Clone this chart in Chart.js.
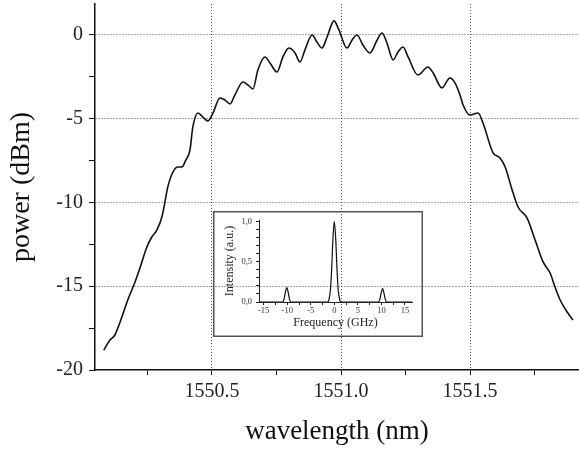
<!DOCTYPE html>
<html><head><meta charset="utf-8">
<script src="https://cdn.jsdelivr.net/npm/chart.js@4/dist/chart.umd.min.js"></script>
<style>
html,body{margin:0;padding:0;background:#fff;}
#wrap{position:relative;width:579px;height:449px;overflow:hidden;}
#main{position:absolute;left:0;top:0;}
#inset{position:absolute;left:213px;top:211px;}
</style></head><body>
<div id="wrap">
<canvas id="main" width="579" height="449"></canvas>
<canvas id="inset" width="210" height="126"></canvas>
</div>
<script>
// Main spectrum
const wavelength = [1550.081,1550.105,1550.124,1550.143,1550.174,1550.202,1550.221,1550.248,1550.267,1550.287,1550.306,1550.318,1550.329,1550.349,1550.368,1550.384,1550.399,1550.415,1550.426,1550.446,1550.465,1550.484,1550.504,1550.531,1550.550,1550.570,1550.589,1550.620,1550.640,1550.659,1550.678,1550.705,1550.725,1550.752,1550.775,1550.798,1550.822,1550.841,1550.860,1550.888,1550.907,1550.926,1550.946,1550.973,1550.992,1551.023,1551.043,1551.062,1551.085,1551.112,1551.140,1551.159,1551.178,1551.202,1551.221,1551.240,1551.260,1551.298,1551.337,1551.357,1551.391,1551.422,1551.442,1551.461,1551.473,1551.500,1551.531,1551.550,1551.589,1551.616,1551.636,1551.663,1551.686,1551.721,1551.752,1551.783,1551.810,1551.829,1551.849,1551.876,1551.899];
const power = [-18.81,-18.21,-17.91,-17.19,-15.82,-14.75,-13.91,-12.66,-12.06,-11.64,-10.87,-9.97,-9.07,-8.18,-7.88,-7.88,-7.46,-6.87,-5.49,-4.66,-4.90,-5.13,-4.66,-3.76,-3.88,-4.12,-3.58,-2.81,-2.99,-3.22,-2.09,-1.31,-1.67,-2.21,-1.31,-0.78,-1.07,-1.61,-0.90,0.00,-0.42,-0.78,-0.12,0.84,0.30,-0.78,-0.30,0.00,-0.60,-1.07,-0.30,0.12,-0.48,-1.49,-1.01,-0.72,-1.31,-2.39,-1.91,-2.27,-3.16,-2.57,-2.87,-3.58,-4.18,-4.78,-4.66,-5.25,-7.04,-7.34,-7.88,-9.25,-10.27,-10.93,-12.24,-13.55,-14.21,-15.04,-15.82,-16.54,-17.01];
const xTicks = [1550.25,1550.5,1550.75,1551.0,1551.25,1551.5,1551.75];
const xTickLabels = ['','1550.5','','1551.0','','1551.5',''];
const yTicks = [-20,-17.5,-15,-12.5,-10,-7.5,-5,-2.5,0];
const yTickLabels = ['-20','','-15','','-10','','-5','','0'];

// Inset (frequency domain)
const insetFreq = [-16,-11.0,-10.7,-10.4,-10.1,-9.8,-9.5,-9.2,-1.4,-1.1,-0.8,-0.55,-0.3,0,0.3,0.55,0.8,1.1,1.4,9.35,9.65,9.95,10.25,10.55,10.85,11.15,16.5];
const insetIntensity = [0,0,0.03,0.12,0.18,0.12,0.03,0,0,0.04,0.17,0.43,0.78,1.0,0.78,0.43,0.17,0.04,0,0,0.03,0.11,0.17,0.11,0.03,0,0];
const insetXTicks = [-15,-12.5,-10,-7.5,-5,-2.5,0,2.5,5,7.5,10,12.5,15];
const insetXTickLabels = ['-15','','-10','','-5','','0','','5','','10','','15'];
const insetYTicks = [0,0.1,0.2,0.3,0.4,0.5,0.6,0.7,0.8,0.9,1.0];
const insetYTickLabels = ['0,0','','','','','0,5','','','','','1,0'];

const serif = 'Liberation Serif';
const noPadY = (w) => s => { s.width = w; s.paddingTop = 0; s.paddingBottom = 0; };
const noPadX = (h) => s => { s.height = h; s.paddingLeft = 0; s.paddingRight = 0; };

new Chart(document.getElementById('main'), {
  type: 'line',
  data: { datasets: [{
    data: wavelength.map((x, i) => ({ x, y: power[i] })),
    borderColor: '#111', borderWidth: 1.6, pointRadius: 0,
    cubicInterpolationMode: 'monotone', fill: false
  }]},
  options: {
    responsive: false, animation: false,
    plugins: { legend: { display: false }, tooltip: { enabled: false } },
    layout: { padding: { top: 4, right: 0, left: 0, bottom: 0 } },
    scales: {
      x: {
        type: 'linear', min: 1550.047, max: 1551.922,
        afterBuildTicks: s => { s.ticks = xTicks.map(v => ({ value: v })); },
        afterFit: noPadX(79),
        ticks: { autoSkip: false, maxRotation: 0, padding: 5, color: '#222',
          font: { family: serif, size: 20 },
          callback: (v, i) => xTickLabels[i] },
        grid: { color: c => (xTickLabels[c.index] ? '#555' : 'rgba(0,0,0,0)'),
          tickColor: '#111', tickLength: 5, lineWidth: 1 },
        border: { color: '#111', width: 1.5, dash: [1, 2] },
        title: { display: true, text: 'wavelength (nm)', color: '#111',
          font: { family: serif, size: 27 }, padding: { top: 0, bottom: 1 } }
      },
      y: {
        type: 'linear', min: -20, max: 1.85,
        afterBuildTicks: s => { s.ticks = yTicks.map(v => ({ value: v })); },
        afterFit: noPadY(95),
        ticks: { autoSkip: false, padding: 6, color: '#222',
          font: { family: serif, size: 20 },
          callback: (v, i) => yTickLabels[i] },
        grid: { color: c => (yTickLabels[c.index] && c.index > 0 ? '#555' : 'rgba(0,0,0,0)'),
          tickColor: '#111', tickLength: 6, lineWidth: 1 },
        border: { color: '#111', width: 1.5, dash: [1, 2] },
        title: { display: true, text: 'power (dBm)', color: '#111',
          font: { family: serif, size: 28 }, padding: { top: 5, bottom: 0 } }
      }
    }
  }
});

new Chart(document.getElementById('inset'), {
  type: 'line',
  data: { datasets: [{
    data: insetFreq.map((x, i) => ({ x, y: insetIntensity[i] })),
    borderColor: '#111', borderWidth: 1.2, pointRadius: 0,
    cubicInterpolationMode: 'monotone', fill: false
  }]},
  options: {
    responsive: false, animation: false,
    plugins: { legend: { display: false }, tooltip: { enabled: false } },
    layout: { padding: { top: 9, right: 11, left: 0, bottom: 0 } },
    scales: {
      x: {
        type: 'linear', min: -16, max: 16.5,
        afterBuildTicks: s => { s.ticks = insetXTicks.map(v => ({ value: v })); },
        afterFit: noPadX(35),
        ticks: { autoSkip: false, maxRotation: 0, padding: 1, color: '#333',
          font: { family: serif, size: 8.5 },
          callback: (v, i) => insetXTickLabels[i] },
        grid: { drawOnChartArea: false, tickColor: '#222', tickLength: 3 },
        border: { color: '#222', width: 1 },
        title: { display: true, text: 'Frequency (GHz)', color: '#222',
          font: { family: serif, size: 12 }, padding: { top: 0, bottom: 7 } }
      },
      y: {
        type: 'linear', min: 0, max: 1.02,
        afterBuildTicks: s => { s.ticks = insetYTicks.map(v => ({ value: v })); },
        afterFit: noPadY(46),
        ticks: { autoSkip: false, padding: 4, color: '#333',
          font: { family: serif, size: 8.5 },
          callback: (v, i) => insetYTickLabels[i] },
        grid: { drawOnChartArea: false, tickColor: '#222', tickLength: 3 },
        border: { color: '#222', width: 1 },
        title: { display: true, text: 'Intensity (a.u.)', color: '#222',
          font: { family: serif, size: 12 }, padding: { top: 10, bottom: 0 } }
      }
    }
  },
  plugins: [{
    id: 'frame',
    afterDraw(c) {
      const ctx = c.ctx;
      ctx.save();
      ctx.strokeStyle = '#555';
      ctx.lineWidth = 1.5;
      ctx.strokeRect(0.75, 0.75, c.width - 1.5, c.height - 1.5);
      ctx.restore();
    }
  }]
});
</script>
</body></html>
